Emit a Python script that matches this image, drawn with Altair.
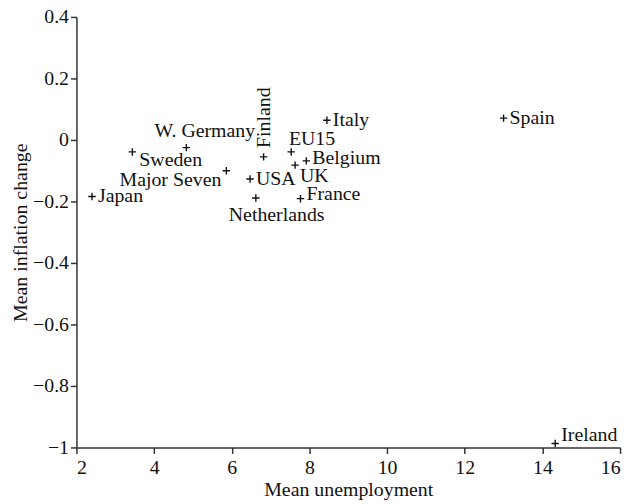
import altair as alt
import pandas as pd

countries = ["Japan", "Sweden", "W. Germany", "Major Seven", "USA", "Finland",
             "Netherlands", "EU15", "UK", "Belgium", "France", "Italy", "Spain", "Ireland"]
unemployment = [2.40, 3.44, 4.83, 5.86, 6.47, 6.82, 6.62, 7.53, 7.63, 7.92, 7.77, 8.45, 13.0, 14.33]
inflation_change = [-0.184, -0.039, -0.025, -0.100, -0.127, -0.055, -0.189, -0.039, -0.082,
                    -0.068, -0.191, 0.064, 0.071, -0.987]
x_ticks = [2, 4, 6, 8, 10, 12, 14, 16]
y_ticks = [0.4, 0.2, 0, -0.2, -0.4, -0.6, -0.8, -1]

df = pd.DataFrame({"country": countries, "unemp": unemployment, "infl": inflation_change})

FONT = "Liberation Serif"
INK = "#111111"
FS = 20

x_scale = alt.Scale(domain=[2, 16], nice=False, zero=False)
y_scale = alt.Scale(domain=[-1, 0.4], nice=False, zero=False)

x_axis = alt.Axis(values=x_ticks, format="d", title="Mean unemployment", grid=False,
                  labelPadding=4, titlePadding=2)
y_axis = alt.Axis(values=y_ticks, format=".1~f", title="Mean inflation change", grid=False,
                  labelPadding=2, titlePadding=2)

X = alt.X("unemp:Q", scale=x_scale, axis=x_axis)
Y = alt.Y("infl:Q", scale=y_scale, axis=y_axis)

points = alt.Chart(df).mark_point(
    shape="M-1,0L1,0M0,-1L0,1", size=56, filled=False, stroke=INK, strokeWidth=1.4, opacity=1
).encode(x=X, y=Y)

# label placement (style): align, dx, dy, angle
placement = {
    "Japan": ("left", 6, 0, 0),
    "Sweden": ("left", 7, 8, 0),
    "W. Germany": ("left", -32, -17, 0),
    "Major Seven": ("right", -5, 9, 0),
    "USA": ("left", 6, 0, 0),
    "Finland": ("left", 9, 0, 270),
    "Netherlands": ("center", 21, 17, 0),
    "EU15": ("center", 21, -13, 0),
    "UK": ("left", 5, 11, 0),
    "Belgium": ("left", 6, -3, 0),
    "France": ("left", 6, -5, 0),
    "Italy": ("left", 6, 0, 0),
    "Spain": ("left", 6, 0, 0),
    "Ireland": ("left", 6, -8, 0),
}

layers = [points]
for name in countries:
    align, dx, dy, angle = placement[name]
    mark_kwargs = dict(align=align, baseline="middle", dx=dx, dy=dy, font=FONT,
                       fontSize=FS, color=INK)
    if angle:
        mark_kwargs["angle"] = angle
    layers.append(
        alt.Chart(df).transform_filter(alt.datum.country == name)
        .mark_text(**mark_kwargs).encode(x=X, y=Y, text="country:N")
    )

chart = alt.layer(*layers).properties(
    width=548, height=434,
    autosize=alt.AutoSizeParams(type="none"),
    padding={"left": 69, "top": 7, "right": 8, "bottom": 55},
).configure_view(stroke=None).configure_axis(
    domainColor="#333", domainWidth=1.5, tickColor="#333", tickWidth=1.5, tickSize=6,
    labelFont=FONT, labelFontSize=FS, labelColor=INK,
    titleFont=FONT, titleFontSize=FS, titleFontWeight="normal", titleColor=INK,
)

chart.save("out.html", embed_options={"renderer": "svg", "actions": False})
